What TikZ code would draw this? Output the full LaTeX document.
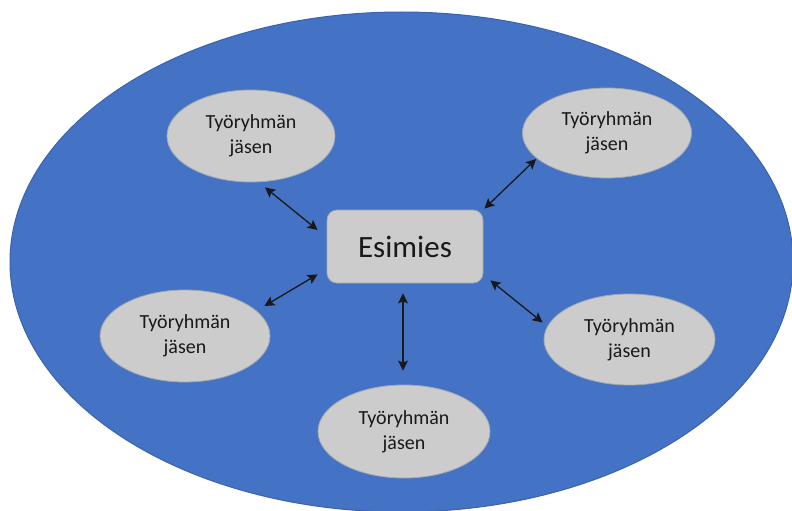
\documentclass[tikz,border=0pt]{standalone}
\usepackage{fontspec}
\setmainfont{Carlito}
\usetikzlibrary{arrows.meta,shapes.geometric}
\definecolor{bigblue}{HTML}{4472C4}
\definecolor{bigedge}{HTML}{3A63AD}
\definecolor{nodegray}{HTML}{CCCCCC}
\definecolor{edgegray}{HTML}{A3A8B0}
\begin{document}
\begin{tikzpicture}[x=1pt,y=-1pt,
  member/.style={ellipse, fill=nodegray, draw=edgegray, line width=0.8pt, inner sep=0pt,
    align=center, font=\fontsize{20}{25}\selectfont, text=black!90},
  bossbox/.style={rectangle, rounded corners=10pt, fill=nodegray, draw=edgegray, line width=0.8pt,
    minimum width=156pt, minimum height=73pt, font=\fontsize{31}{36}\selectfont, text=black!90},
  link/.style={{Stealth[length=10pt,width=10pt,inset=2pt]}-{Stealth[length=10pt,width=10pt,inset=2pt]}, line width=1.3pt, black!90}]
\useasboundingbox (0,0) rectangle (792,511);
\fill[white] (0,0) rectangle (792,511);
\begin{scope}
\clip (0,0) rectangle (792,511);
\node[ellipse, fill=bigblue, draw=bigedge, line width=1pt, inner sep=0pt,
  minimum width=783pt, minimum height=500pt] (team) at (401.5,262) {};
\end{scope}

\node[bossbox] (boss) at (405,246.5) {Esimies};
\node[member, minimum width=168pt, minimum height=92pt] (tl) at (251,136) {Työryhmän\\jäsen};
\node[member, minimum width=169pt, minimum height=90pt] (tr) at (607,133) {Työryhmän\\jäsen};
\node[member, minimum width=170pt, minimum height=92pt] (l) at (185,336) {Työryhmän\\jäsen};
\node[member, minimum width=171pt, minimum height=91pt] (r) at (629.5,339.5) {Työryhmän\\jäsen};
\node[member, minimum width=172pt, minimum height=93pt] (b) at (404,431.5) {Työryhmän\\jäsen};

\draw[link] ([shift={(14,5)}]tl.south) -- ([shift={(-9,-16.5)}]boss.west);
\draw[link] ([shift={(14,26)}]tr.west) -- ([shift={(1,-1)}]boss.north east);
\draw[link] ([shift={(-6,-30)}]l.east) -- ([shift={(-9,-9)}]boss.south west);
\draw[link] ([shift={(-2,10)}]boss.south) -- ([shift={(-1,-14)}]b.north);
\draw[link] ([shift={(7,-3)}]boss.south east) -- ([shift={(-1,-17)}]r.west);
\end{tikzpicture}
\end{document}
